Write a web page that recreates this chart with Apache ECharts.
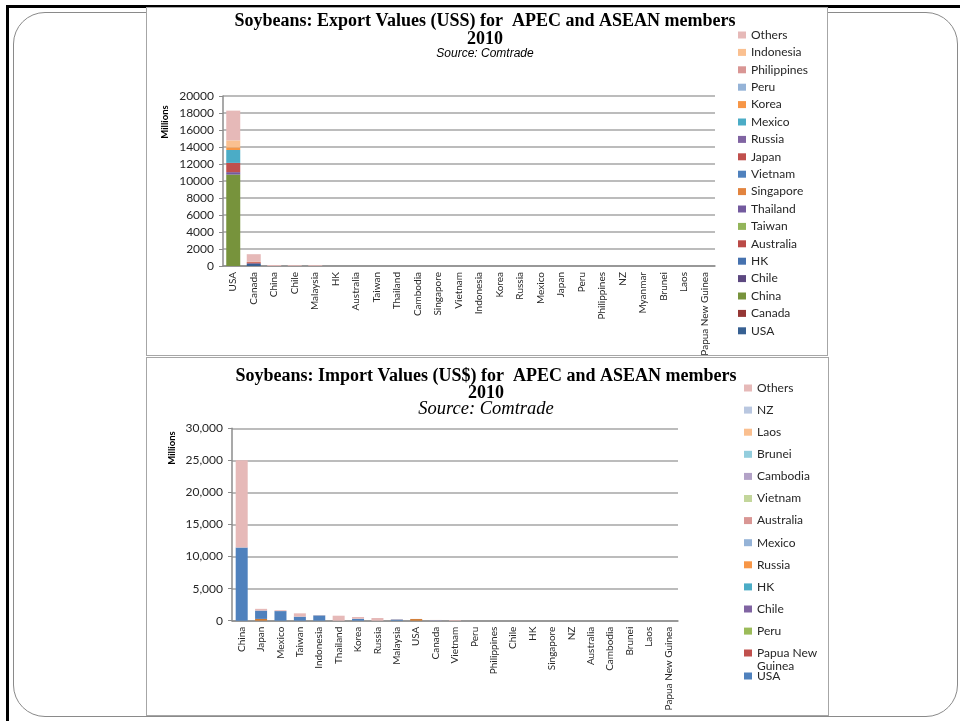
<!DOCTYPE html>
<html>
<head>
<meta charset="utf-8">
<script src="https://cdn.jsdelivr.net/npm/echarts@6/dist/echarts.min.js"></script>
<style>
  html, body { margin: 0; padding: 0; background: #fff; width: 960px; height: 721px; overflow: hidden; position: relative; }
  #edge { position: absolute; left: 6px; top: 5px; width: 960px; height: 720px; border-top: 3px solid #000; border-left: 3px solid #000; box-sizing: border-box; }
  #slide { position: absolute; left: 13px; top: 12px; width: 945px; height: 705px; border: 1px solid #8a8a8a; border-radius: 32px; box-sizing: border-box; }
  .box { position: absolute; background: #fff; border: 1px solid #a6a6a6; box-sizing: border-box; }
  #exp { left: 146px; top: 7px; width: 682px; height: 349px; }
  #imp { left: 146px; top: 357px; width: 683px; height: 359px; }
</style>
</head>
<body>
<div id="edge"></div>
<div id="slide"></div>
<div id="exp" class="box"></div>
<div id="imp" class="box"></div>
<script>
// ---------- Export chart: exporting member (x) split by destination (stack) ----------
const exportCountries = ['USA', 'Canada', 'China', 'Chile', 'Malaysia', 'HK', 'Australia', 'Taiwan', 'Thailand', 'Cambodia',
  'Singapore', 'Vietnam', 'Indonesia', 'Korea', 'Russia', 'Mexico', 'Japan', 'Peru', 'Philippines', 'NZ', 'Myanmar',
  'Brunei', 'Laos', 'Papua New Guinea'];
const exportTicks = [0, 2000, 4000, 6000, 8000, 10000, 12000, 14000, 16000, 18000, 20000];

// destination values, US$ millions (one entry per exporting member)
const exToUSA         = [0, 250, 0, 0, 0, 0, 0, 0, 0, 0, 0, 0, 0, 0, 0, 0, 0, 0, 0, 0, 0, 0, 0, 0];
const exToCanada      = [0, 0, 0, 0, 0, 0, 0, 0, 0, 0, 0, 0, 0, 0, 0, 0, 0, 0, 0, 0, 0, 0, 0, 0];
const exToChina       = [10760, 0, 0, 0, 0, 0, 0, 0, 0, 0, 0, 0, 0, 0, 0, 0, 0, 0, 0, 0, 0, 0, 0, 0];
const exToChile       = [0, 80, 0, 0, 0, 0, 0, 0, 0, 0, 0, 0, 0, 0, 0, 0, 0, 0, 0, 0, 0, 0, 0, 0];
const exToHK          = [0, 0, 0, 0, 0, 0, 0, 0, 0, 0, 0, 0, 0, 0, 0, 0, 0, 0, 0, 0, 0, 0, 0, 0];
const exToAustralia   = [0, 0, 0, 0, 0, 0, 0, 0, 0, 0, 0, 0, 0, 0, 0, 0, 0, 0, 0, 0, 0, 0, 0, 0];
const exToTaiwan      = [0, 0, 0, 0, 0, 0, 0, 0, 0, 0, 0, 0, 0, 0, 0, 0, 0, 0, 0, 0, 0, 0, 0, 0];
const exToThailand    = [280, 0, 0, 0, 0, 0, 0, 0, 0, 0, 0, 0, 0, 0, 0, 0, 0, 0, 0, 0, 0, 0, 0, 0];
const exToSingapore   = [0, 0, 0, 0, 0, 0, 0, 0, 0, 0, 0, 0, 0, 0, 0, 0, 0, 0, 0, 0, 0, 0, 0, 0];
const exToVietnam     = [0, 0, 0, 0, 0, 0, 0, 0, 0, 0, 0, 0, 0, 0, 0, 0, 0, 0, 0, 0, 0, 0, 0, 0];
const exToJapan       = [1090, 120, 0, 0, 0, 0, 0, 0, 0, 0, 0, 0, 0, 0, 0, 0, 0, 0, 0, 0, 0, 0, 0, 0];
const exToRussia      = [0, 0, 0, 0, 0, 0, 0, 0, 0, 0, 0, 0, 0, 0, 0, 0, 0, 0, 0, 0, 0, 0, 0, 0];
const exToMexico      = [1520, 0, 0, 0, 0, 0, 0, 0, 0, 0, 0, 0, 0, 0, 0, 0, 0, 0, 0, 0, 0, 0, 0, 0];
const exToKorea       = [310, 40, 0, 0, 0, 0, 0, 0, 0, 0, 0, 0, 0, 0, 0, 0, 0, 0, 0, 0, 0, 0, 0, 0];
const exToPeru        = [0, 0, 0, 0, 0, 0, 0, 0, 0, 0, 0, 0, 0, 0, 0, 0, 0, 0, 0, 0, 0, 0, 0, 0];
const exToPhilippines = [0, 0, 0, 0, 0, 0, 0, 0, 0, 0, 0, 0, 0, 0, 0, 0, 0, 0, 0, 0, 0, 0, 0, 0];
const exToIndonesia   = [820, 0, 0, 0, 0, 0, 0, 0, 0, 0, 0, 0, 0, 0, 0, 0, 0, 0, 0, 0, 0, 0, 0, 0];
const exToOthers      = [3500, 900, 110, 90, 90, 0, 0, 0, 0, 0, 0, 0, 0, 0, 0, 0, 0, 0, 0, 0, 0, 0, 0, 0];

// ---------- Import chart: importing member (x) split by origin (stack) ----------
const importCountries = ['China', 'Japan', 'Mexico', 'Taiwan', 'Indonesia', 'Thailand', 'Korea', 'Russia', 'Malaysia',
  'USA', 'Canada', 'Vietnam', 'Peru', 'Philippines', 'Chile', 'HK', 'Singapore', 'NZ', 'Australia', 'Cambodia',
  'Brunei', 'Laos', 'Papua New Guinea'];
const importTicks = [0, 5000, 10000, 15000, 20000, 25000, 30000];

const imFromCanada    = [0, 280, 0, 0, 0, 0, 0, 0, 0, 260, 0, 0, 0, 0, 0, 0, 0, 0, 0, 0, 0, 0, 0];
const imFromUSA       = [11400, 1300, 1500, 630, 830, 0, 300, 0, 200, 0, 60, 0, 0, 0, 0, 0, 0, 0, 0, 0, 0, 0, 0];
const imFromPNG       = [0, 0, 0, 0, 0, 0, 0, 0, 0, 0, 0, 0, 0, 0, 0, 0, 0, 0, 0, 0, 0, 0, 0];
const imFromPeru      = [0, 0, 0, 0, 0, 0, 0, 0, 0, 0, 0, 0, 0, 0, 0, 0, 0, 0, 0, 0, 0, 0, 0];
const imFromChile     = [0, 0, 0, 0, 0, 0, 0, 0, 0, 0, 0, 0, 0, 0, 0, 0, 0, 0, 0, 0, 0, 0, 0];
const imFromHK        = [0, 0, 0, 0, 0, 0, 0, 0, 0, 0, 0, 0, 0, 0, 0, 0, 0, 0, 0, 0, 0, 0, 0];
const imFromRussia    = [0, 0, 0, 0, 0, 0, 0, 0, 0, 0, 0, 0, 0, 0, 0, 0, 0, 0, 0, 0, 0, 0, 0];
const imFromMexico    = [0, 0, 0, 0, 0, 0, 0, 0, 0, 0, 0, 0, 0, 0, 0, 0, 0, 0, 0, 0, 0, 0, 0];
const imFromAustralia = [0, 0, 0, 0, 0, 0, 0, 0, 0, 0, 0, 0, 0, 0, 0, 0, 0, 0, 0, 0, 0, 0, 0];
const imFromVietnam   = [0, 0, 0, 0, 0, 0, 0, 0, 0, 0, 0, 0, 0, 0, 0, 0, 0, 0, 0, 0, 0, 0, 0];
const imFromCambodia  = [0, 0, 0, 0, 0, 0, 0, 0, 0, 0, 0, 0, 0, 0, 0, 0, 0, 0, 0, 0, 0, 0, 0];
const imFromBrunei    = [0, 0, 0, 0, 0, 0, 0, 0, 0, 0, 0, 0, 0, 0, 0, 0, 0, 0, 0, 0, 0, 0, 0];
const imFromLaos      = [0, 0, 0, 0, 0, 0, 0, 0, 0, 0, 0, 0, 0, 0, 0, 0, 0, 0, 0, 0, 0, 0, 0];
const imFromNZ        = [0, 0, 0, 0, 0, 0, 0, 0, 0, 0, 0, 0, 0, 0, 0, 0, 0, 0, 0, 0, 0, 0, 0];
const imFromOthers    = [13600, 270, 130, 520, 40, 780, 280, 420, 60, 20, 60, 100, 0, 0, 0, 0, 0, 0, 0, 0, 0, 0, 0];

// stacking order, bottom first: [name, values, colour]
const exportStack = [
  ['USA', exToUSA, '#376092'], ['Canada', exToCanada, '#953735'], ['China', exToChina, '#77933C'],
  ['Chile', exToChile, '#5C4880'], ['HK', exToHK, '#4672AF'], ['Australia', exToAustralia, '#BA4A47'],
  ['Taiwan', exToTaiwan, '#93B55A'], ['Thailand', exToThailand, '#735A9E'], ['Singapore', exToSingapore, '#E2843F'],
  ['Vietnam', exToVietnam, '#4F81BD'], ['Japan', exToJapan, '#C0504D'], ['Russia', exToRussia, '#8064A2'],
  ['Mexico', exToMexico, '#4BACC6'], ['Korea', exToKorea, '#F79646'], ['Peru', exToPeru, '#95B3D7'],
  ['Philippines', exToPhilippines, '#D99694'], ['Indonesia', exToIndonesia, '#FAC090'], ['Others', exToOthers, '#E6B9B8']
];
const importStack = [
  ['Canada', imFromCanada, '#D07A30'], ['USA', imFromUSA, '#4F81BD'], ['Papua New Guinea', imFromPNG, '#C0504D'],
  ['Peru', imFromPeru, '#9BBB59'], ['Chile', imFromChile, '#8064A2'], ['HK', imFromHK, '#4BACC6'],
  ['Russia', imFromRussia, '#F79646'], ['Mexico', imFromMexico, '#95B3D7'], ['Australia', imFromAustralia, '#D99694'],
  ['Vietnam', imFromVietnam, '#C3D69B'], ['Cambodia', imFromCambodia, '#B3A2C7'], ['Brunei', imFromBrunei, '#93CDDD'],
  ['Laos', imFromLaos, '#FABF8F'], ['NZ', imFromNZ, '#B9C7E0'], ['Others', imFromOthers, '#E6B9B8']
];

const SANS = 'Lato, "Open Sans", sans-serif';
const SERIF = '"Liberation Serif", "Times New Roman", serif';
const ink = '#262626';

function stackSeries(stack, width) {
  return stack.map(([name, values, color]) => ({
    name, type: 'bar', stack: 'total', data: values, barWidth: width,
    itemStyle: { color }, emphasis: { disabled: true }, animation: false
  }));
}

function baseAxes(cats, ticks, useComma) {
  const step = ticks[1] - ticks[0];
  return {
    xAxis: {
      type: 'category', data: cats,
      axisLine: { lineStyle: { color: '#8c8c8c', width: 1.5 } },
      axisTick: { show: false },
      axisLabel: { interval: 0, rotate: 90, margin: 6, fontFamily: SANS, fontSize: 10, color: ink }
    },
    yAxis: {
      type: 'value', min: ticks[0], max: ticks[ticks.length - 1], interval: step,
      axisLine: { show: true, lineStyle: { color: '#8c8c8c', width: 1.5 } },
      axisTick: { show: true, length: 4, lineStyle: { color: '#8c8c8c' } },
      splitLine: { lineStyle: { color: '#a6a6a6', width: 1.5 } },
      axisLabel: {
        margin: 9, fontFamily: SANS, fontSize: 12, color: ink,
        formatter: v => useComma ? v.toLocaleString('en-US') : String(v)
      }
    }
  };
}

function legendBlock(names, left, top, gap, extra) {
  return Object.assign({
    orient: 'vertical', left, top, padding: 0, itemGap: gap,
    itemWidth: 8, itemHeight: 7, icon: 'rect', selectedMode: false,
    data: names,
    textStyle: { fontFamily: SANS, fontSize: 12, color: ink, lineHeight: 13 }
  }, extra || {});
}

// ---------- export chart ----------
const expChart = echarts.init(document.getElementById('exp'), null, { renderer: 'canvas' });
const expAxes = baseAxes(exportCountries, exportTicks, false);
expChart.setOption({
  backgroundColor: '#fff',
  animation: false,
  grid: { left: 76, top: 88, width: 492, height: 170, outerBoundsMode: 'none' },
  xAxis: expAxes.xAxis,
  yAxis: expAxes.yAxis,
  legend: legendBlock(exportStack.map(s => s[0]).reverse(), 591, 20.5, 4.4),
  graphic: [
    { type: 'text', x: 338, y: 13, style: { text: 'Soybeans: Export Values (USS) for  APEC and ASEAN members', align: 'center', verticalAlign: 'middle', font: 'bold 18px ' + SERIF, fill: '#000' } },
    { type: 'text', x: 338, y: 31, style: { text: '2010', align: 'center', verticalAlign: 'middle', font: 'bold 18px ' + SERIF, fill: '#000' } },
    { type: 'text', x: 338, y: 46, style: { text: 'Source: Comtrade', align: 'center', verticalAlign: 'middle', font: 'italic 12px "Liberation Sans", Arial, sans-serif', fill: '#000' } },
    { type: 'text', x: 18, y: 114, rotation: Math.PI / 2, style: { text: 'Millions', align: 'center', verticalAlign: 'middle', font: 'bold 9.5px ' + SANS, fill: '#000' } }
  ],
  series: stackSeries(exportStack, 14)
});

// ---------- import chart ----------
const impChart = echarts.init(document.getElementById('imp'), null, { renderer: 'canvas' });
const impAxes = baseAxes(importCountries, importTicks, true);
const upperOrigins = ['Others', 'NZ', 'Laos', 'Brunei', 'Cambodia', 'Vietnam', 'Australia', 'Mexico', 'Russia', 'HK', 'Chile', 'Peru'];
impChart.setOption({
  backgroundColor: '#fff',
  animation: false,
  grid: { left: 85, top: 70.3, width: 446, height: 192.4, outerBoundsMode: 'none' },
  xAxis: impAxes.xAxis,
  yAxis: impAxes.yAxis,
  legend: [
    legendBlock(upperOrigins, 597, 23.5, 9.1),
    // two-line entry: first line level with the swatch, second line below it
    legendBlock(['Papua New Guinea'], 597, 275.5, 0, {
      formatter: () => '{p|Papua New}\n{g|Guinea}',
      textStyle: {
        fontFamily: SANS, fontSize: 12, color: ink, lineHeight: 13,
        rich: {
          p: { fontFamily: SANS, fontSize: 12, color: ink, lineHeight: 26, verticalAlign: 'bottom' },
          g: { fontFamily: SANS, fontSize: 12, color: ink, lineHeight: 13 }
        }
      }
    }),
    legendBlock(['USA'], 597, 311.5, 0)
  ],
  graphic: [
    { type: 'text', x: 339, y: 18, style: { text: 'Soybeans: Import Values (US$) for  APEC and ASEAN members', align: 'center', verticalAlign: 'middle', font: 'bold 18px ' + SERIF, fill: '#000' } },
    { type: 'text', x: 339, y: 35, style: { text: '2010', align: 'center', verticalAlign: 'middle', font: 'bold 18px ' + SERIF, fill: '#000' } },
    { type: 'text', x: 339, y: 51, style: { text: 'Source: Comtrade', align: 'center', verticalAlign: 'middle', font: 'italic 18.5px ' + SERIF, fill: '#000' } },
    { type: 'text', x: 25, y: 90, rotation: Math.PI / 2, style: { text: 'Millions', align: 'center', verticalAlign: 'middle', font: 'bold 9.5px ' + SANS, fill: '#000' } }
  ],
  series: stackSeries(importStack, 12)
});
</script>
</body>
</html>
